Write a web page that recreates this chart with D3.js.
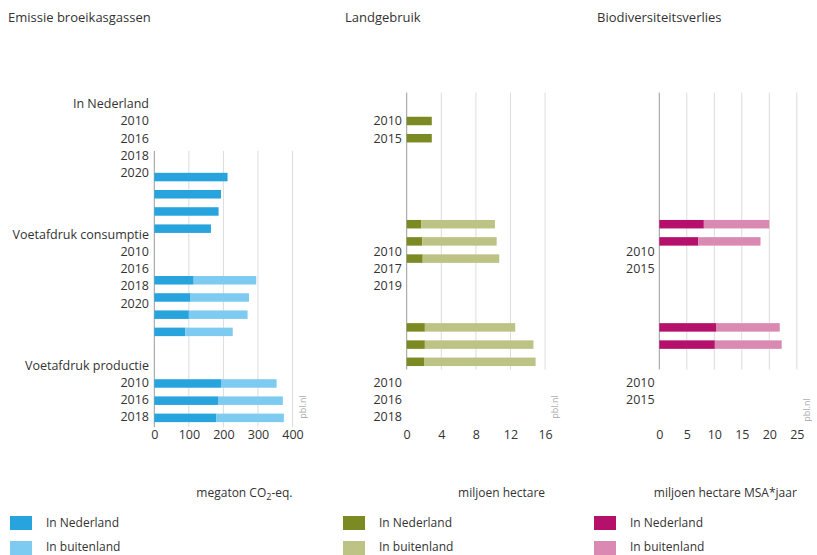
<!DOCTYPE html>
<html>
<head>
<meta charset="utf-8">
<script src="https://cdn.jsdelivr.net/npm/d3@7"></script>
<style>
  body { margin: 0; background: #fff; }
  text { font-family: "Open Sans", sans-serif; fill: #333; }
</style>
</head>
<body>
<div id="chart"></div>
<script>
// --- data ---
const emissionRows = [0, 1, 2, 3, 6, 7, 8, 9, 12, 13, 14];
const emissionNL = [212, 193, 186, 164, 114, 105, 100, 90, 193, 186, 180];
const emissionAbroad = [0, 0, 0, 0, 181, 169, 170, 137, 161, 186, 195];
const emissionLabels = [
  ["In Nederland", "2010", "2016", "2018", "2020"],
  ["Voetafdruk consumptie", "2010", "2016", "2018", "2020"],
  ["Voetafdruk productie", "2010", "2016", "2018"]
];
const emissionTicks = [0, 100, 200, 300, 400];

const landRows = [0, 1, 6, 7, 8, 12, 13, 14];
const landNL = [2.9, 2.9, 1.7, 1.8, 1.85, 2.1, 2.1, 2.0];
const landAbroad = [0, 0, 8.5, 8.6, 8.85, 10.45, 12.55, 12.9];
const landLabels = [["2010", "2015"], ["2010", "2017", "2019"], ["2010", "2016", "2018"]];
const landTicks = [0, 4, 8, 12, 16];

const bioRows = [6, 7, 12, 13];
const bioNL = [8.1, 7.1, 10.4, 10.1];
const bioAbroad = [11.9, 11.3, 11.5, 12.15];
const bioLabels = [[], ["2010", "2015"], ["2010", "2015"]];
const bioTicks = [0, 5, 10, 15, 20, 25];

const titles = ["Emissie broeikasgassen", "Landgebruik", "Biodiversiteitsverlies"];
const legendNames = ["In Nederland", "In buitenland"];

const svg = d3.select("#chart").append("svg").attr("width", 817).attr("height", 555);

// one row = one bar slot, shared by the three panels
const rowY = d3.scaleLinear().domain([0, 1]).range([121, 138.2]);
const barH = 8.5;

const panels = [
  { rows: emissionRows, nl: emissionNL, abroad: emissionAbroad, labels: emissionLabels, ticks: emissionTicks,
    range: [154.3, 292.5], shift: 3.26, gridRows: [1.74, 17.8], labelAnchor: "end", labelX: 149,
    colors: ["#27a3dd", "#7dcbf0"], titleX: 8, legendX: 10 },
  { rows: landRows, nl: landNL, abroad: landAbroad, labels: landLabels, ticks: landTicks,
    range: [406.7, 545.1], shift: 0, gridRows: [-1.65, 14.45], labelAnchor: "end", labelX: 402,
    colors: ["#7c8a24", "#bcc384"], titleX: 345, legendX: 343 },
  { rows: bioRows, nl: bioNL, abroad: bioAbroad, labels: bioLabels, ticks: bioTicks,
    range: [659.3, 796.8], shift: 0, gridRows: [-1.65, 14.45], labelAnchor: "start", labelX: 626,
    colors: ["#b5116c", "#da8ab2"], titleX: 597, legendX: 594 }
];

panels.forEach((p, pi) => {
  const g = svg.append("g");
  const x = d3.scaleLinear().domain(d3.extent(p.ticks)).range(p.range);
  const y = (r) => rowY(r + p.shift);

  g.append("text")
    .attr("x", p.titleX).attr("y", 22)
    .attr("font-size", 13)
    .text(titles[pi]);

  // grid
  g.selectAll(".grid").data(p.ticks).enter().append("line")
    .attr("x1", d => x(d)).attr("x2", d => x(d))
    .attr("y1", rowY(p.gridRows[0])).attr("y2", rowY(p.gridRows[1]))
    .attr("stroke", d => d === 0 ? "#9a9a9a" : "#dcdcdc")
    .attr("stroke-width", 1);

  // bars: in Nederland + in buitenland stacked
  const data = p.rows.map((r, i) => ({ r, nl: p.nl[i], ab: p.abroad[i] }));
  g.selectAll(".nl").data(data).enter().append("rect")
    .attr("x", x(0)).attr("y", d => y(d.r) - barH / 2)
    .attr("width", d => x(d.nl) - x(0)).attr("height", barH)
    .attr("fill", p.colors[0]);
  g.selectAll(".ab").data(data.filter(d => d.ab > 0)).enter().append("rect")
    .attr("x", d => x(d.nl)).attr("y", d => y(d.r) - barH / 2)
    .attr("width", d => x(d.nl + d.ab) - x(d.nl)).attr("height", barH)
    .attr("fill", p.colors[1]);

  // category labels, three blocks of years (headers one row above)
  const blockStart = [0, 7.6, 15.2];
  p.labels.forEach((block, bi) => {
    const hasHeader = pi === 0;
    block.forEach((txt, li) => {
      const row = blockStart[bi] + li - (hasHeader ? 1 : 0);
      g.append("text")
        .attr("x", p.labelX).attr("y", rowY(row))
        .attr("dy", "0.35em")
        .attr("text-anchor", p.labelAnchor)
        .attr("font-size", 12.5)
        .text(txt);
    });
  });

  // x axis
  const axis = g.append("g")
    .attr("transform", "translate(0,430)")
    .call(d3.axisBottom(x).tickValues(p.ticks).tickSize(0).tickPadding(0));
  axis.select(".domain").remove();
  axis.selectAll("text")
    .attr("font-size", 12.5)
    .attr("font-family", "Open Sans, sans-serif")
    .attr("fill", "#333");

  // source
  g.append("text")
    .attr("transform", `translate(${p.range[1] + 13},${pi === 2 ? 410 : 407}) rotate(-90)`)
    .attr("text-anchor", "middle")
    .attr("font-size", 9)
    .style("fill", "#aaa")
    .text("pbl.nl");

  // unit
  const unit = g.append("text")
    .attr("x", p.range[1]).attr("y", 497)
    .attr("text-anchor", "end")
    .attr("font-size", 12);
  if (pi === 0) {
    unit.append("tspan").text("megaton CO");
    unit.append("tspan").attr("dy", 3).attr("font-size", 9).text("2");
    unit.append("tspan").attr("dy", -3).text("-eq.");
  } else {
    unit.text(pi === 1 ? "miljoen hectare" : "miljoen hectare MSA*jaar");
  }

  // legend
  legendNames.forEach((name, li) => {
    g.append("rect")
      .attr("x", p.legendX).attr("y", 516 + li * 25)
      .attr("width", 22).attr("height", 14)
      .attr("fill", p.colors[li]);
    g.append("text")
      .attr("x", p.legendX + 36).attr("y", 523 + li * 23.5)
      .attr("dy", "0.35em")
      .attr("font-size", 12)
      .text(name);
  });
});
</script>
</body>
</html>
